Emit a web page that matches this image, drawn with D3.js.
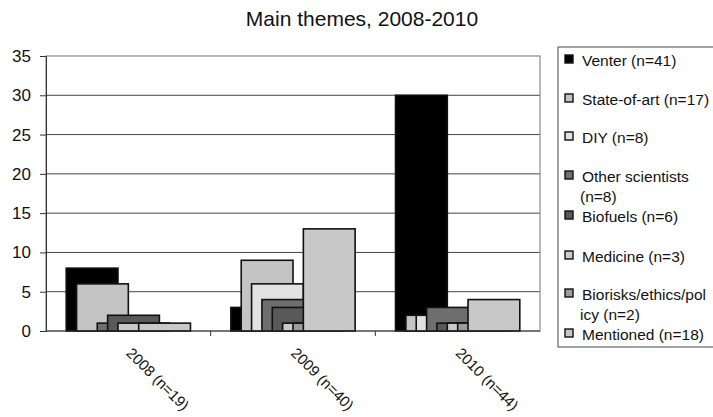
<!DOCTYPE html>
<html>
<head>
<meta charset="utf-8">
<script src="https://cdn.jsdelivr.net/npm/d3@7/dist/d3.min.js"></script>
<style>
  body { margin: 0; background: #fff; }
  svg { display: block; font-family: Arial, "Liberation Sans", sans-serif; }
</style>
</head>
<body>
<svg id="chart" width="713" height="417"></svg>
<script>
// Years (with article counts) along the x axis
const categories = ["2008 (n=19)", "2009 (n=40)", "2010 (n=44)"];

// Theme series, in drawing order
const seriesNames = [
  "Venter (n=41)",
  "State-of-art (n=17)",
  "DIY (n=8)",
  "Other scientists (n=8)",
  "Biofuels (n=6)",
  "Medicine (n=3)",
  "Biorisks/ethics/policy (n=2)",
  "Mentioned (n=18)"
];
const venter        = [8, 3, 30];
const stateOfArt    = [6, 9, 2];
const diy           = [0, 6, 2];
const otherSci      = [1, 4, 3];
const biofuels      = [2, 3, 1];
const medicine      = [1, 1, 1];
const biorisks      = [0, 1, 1];
const mentioned     = [1, 13, 4];
const seriesValues = [venter, stateOfArt, diy, otherSci, biofuels, medicine, biorisks, mentioned];

const yTicks = [0, 5, 10, 15, 20, 25, 30, 35];

// Legend text lines (wrapped the way the legend box wraps them)
const legendLines = [
  ["Venter (n=41)"],
  ["State-of-art (n=17)"],
  ["DIY (n=8)"],
  ["Other scientists", "(n=8)"],
  ["Biofuels (n=6)"],
  ["Medicine (n=3)"],
  ["Biorisks/ethics/pol", "icy (n=2)"],
  ["Mentioned (n=18)"]
];

const fills = ["#000000", "#c4c4c4", "#e2e2e2", "#6e6e6e", "#595959", "#cacaca", "#9c9c9c", "#c8c8c8"];
const FONT = "Arial, \"Liberation Sans\", sans-serif";

const svg = d3.select("#chart");
const plot = { left: 46, right: 540, top: 56, bottom: 331 };

const x = d3.scaleBand().domain(categories).range([plot.left, plot.right]).paddingInner(0).paddingOuter(0);
const y = d3.scaleLinear().domain([0, 35]).range([plot.bottom, plot.top]);

// Overlapping clustered bars: each series shifted by a fraction of the bar width
const overlap = 0.8, gapWidth = 0.78, n = seriesNames.length;
const barW = x.bandwidth() / (n * (1 - overlap) + overlap + gapWidth);
const step = barW * (1 - overlap);
const inner = d3.scaleLinear().domain([0, n - 1]).range([gapWidth * barW / 2, gapWidth * barW / 2 + (n - 1) * step]);

// Title
svg.append("text")
  .attr("x", 362).attr("y", 26)
  .attr("text-anchor", "middle")
  .attr("font-size", 21)
  .attr("fill", "#111")
  .text("Main themes, 2008-2010");

// Gridlines
svg.append("g")
  .selectAll("line")
  .data(yTicks.filter(t => t > 0 && t < 35))
  .join("line")
  .attr("x1", plot.left).attr("x2", plot.right)
  .attr("y1", d => y(d)).attr("y2", d => y(d))
  .attr("stroke", "#444").attr("stroke-width", 1);

// Plot area border
svg.append("rect")
  .attr("x", plot.left).attr("y", plot.top)
  .attr("width", plot.right - plot.left).attr("height", plot.bottom - plot.top)
  .attr("fill", "none").attr("stroke", "#8a8a8a").attr("stroke-width", 1.2);

// Bars
seriesValues.forEach((vals, si) => {
  svg.append("g")
    .selectAll("rect")
    .data(categories.map((c, ci) => ({ c, v: vals[ci] })).filter(d => d.v > 0))
    .join("rect")
    .attr("x", d => x(d.c) + inner(si))
    .attr("y", d => y(d.v))
    .attr("width", barW)
    .attr("height", d => y(0) - y(d.v))
    .attr("fill", fills[si])
    .attr("stroke", "#111")
    .attr("stroke-width", 1.6);
});

// Y axis
const yAxis = svg.append("g")
  .attr("transform", `translate(${plot.left},0)`)
  .call(d3.axisLeft(y).tickValues(yTicks).tickSize(6).tickPadding(9));
yAxis.select(".domain").attr("stroke", "#333");
yAxis.selectAll(".tick line").attr("stroke", "#333");
yAxis.selectAll("text").attr("font-size", 17).attr("fill", "#111")
  .attr("font-family", FONT);

// X axis: ticks at category boundaries
svg.append("line")
  .attr("x1", plot.left).attr("x2", plot.right)
  .attr("y1", plot.bottom).attr("y2", plot.bottom)
  .attr("stroke", "#333").attr("stroke-width", 1.2);
svg.append("g")
  .selectAll("line")
  .data(categories.slice(1))
  .join("line")
  .attr("x1", d => x(d)).attr("x2", d => x(d))
  .attr("y1", plot.bottom).attr("y2", plot.bottom + 5)
  .attr("stroke", "#333");

svg.append("g")
  .selectAll("text")
  .data(categories)
  .join("text")
  .attr("transform", d => `translate(${x(d) + x.bandwidth() / 2 - 3},${plot.bottom + 23}) rotate(45)`)
  .attr("font-size", 15)
  .attr("fill", "#111")
  .text(d => d);

// Legend
const legend = svg.append("g");
legend.append("rect")
  .attr("x", 558).attr("y", 47).attr("width", 170).attr("height", 300)
  .attr("fill", "#fff").attr("stroke", "#666").attr("stroke-width", 1.2);

const legendY = [66, 105, 143, 182, 222, 262, 300, 340];
legendLines.forEach((lines, i) => {
  const g = legend.append("g").attr("transform", `translate(0,${legendY[i]})`);
  g.append("rect")
    .attr("x", 565).attr("y", -11).attr("width", 8).attr("height", 8)
    .attr("fill", fills[i]).attr("stroke", "#111").attr("stroke-width", 1.4);
  g.append("text")
    .attr("x", 582).attr("y", 0)
    .attr("font-size", 15.5).attr("fill", "#111")
    .selectAll("tspan")
    .data(lines)
    .join("tspan")
    .attr("x", (d, j) => j === 0 ? 582 : 580)
    .attr("dy", (d, j) => j === 0 ? 0 : 20)
    .text(d => d);
});
</script>
</body>
</html>
